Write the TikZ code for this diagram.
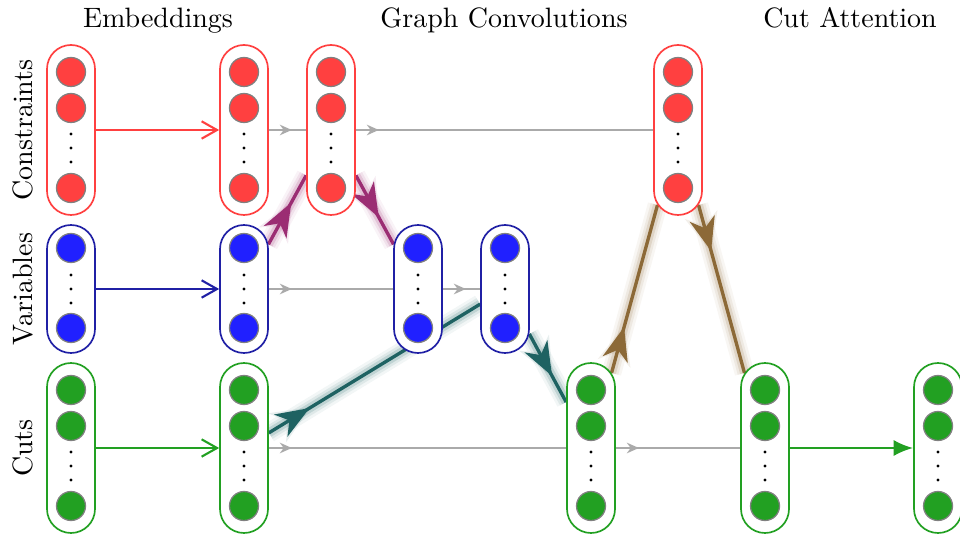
\documentclass[tikz,border=0pt]{standalone}
\usetikzlibrary{shapes.misc,arrows.meta,decorations.markings,backgrounds}

\definecolor{cred}{RGB}{255,64,64}
\definecolor{vblue}{RGB}{32,32,255}
\definecolor{vline}{RGB}{32,32,165}
\definecolor{cgreen}{RGB}{34,160,34}
\definecolor{gline}{RGB}{170,170,170}
\definecolor{ballrim}{RGB}{128,128,128}
\definecolor{mpurple}{RGB}{155,45,115}
\definecolor{mteal}{RGB}{30,98,98}
\definecolor{mbrown}{RGB}{140,105,55}

% one drawing unit in points
\newcommand{\pxu}{0.357pt}

% three balls and a vertical ellipsis for a tall column
\newcommand{\tallballs}[3]{%
  \foreach \dy in {-58,-22,58}{\draw[ball, fill=#3] ({#1},{#2+(\dy)}) circle[radius=14.5*\pxu];}
  \foreach \dy in {4,18,32}{\fill ({#1},{#2+(\dy)}) circle[radius=1.7*\pxu];}
}
% two balls and a vertical ellipsis for a short column
\newcommand{\lowballs}[3]{%
  \foreach \dy in {-41,39}{\draw[ball, fill=#3] ({#1},{#2+(\dy)}) circle[radius=14.5*\pxu];}
  \foreach \dy in {-14,0,14}{\fill ({#1},{#2+(\dy)}) circle[radius=1.7*\pxu];}
}

\begin{document}
\begin{tikzpicture}[x=0.357pt, y=-0.357pt,
  pillbox/.style={rounded rectangle, rotate=90, minimum height=48*\pxu,
    inner sep=0pt, fill=white, line width=0.6pt},
  tallbox/.style={pillbox, minimum width=170*\pxu},
  lowbox/.style={pillbox, minimum width=128*\pxu},
  ball/.style={draw=ballrim, line width=0.45pt},
  heading/.style={anchor=base, font=\normalsize},
  rowlabel/.style={anchor=base, rotate=90, font=\normalsize},
  embarrow/.style={line width=0.75pt, -{Straight Barb[length=5.5pt,width=6.2pt]}},
  passarrow/.style={draw=gline, line width=0.55pt,
    postaction={decorate, decoration={markings,
      mark=at position 8.2pt with {\arrow{Stealth[length=4.3pt,width=3.8pt,inset=1.4pt]}}}}},
  glow/.style={draw=#1, line width=1.2pt,
    preaction={draw=#1, line width=7pt, draw opacity=0.06},
    preaction={draw=#1, line width=5pt, draw opacity=0.09},
    preaction={draw=#1, line width=3.2pt, draw opacity=0.16},
    postaction={decorate, decoration={markings,
      mark=at position 17.6pt with {\arrow[#1, opacity=0.10]{Stealth[length=14pt,width=12pt,inset=4pt]}},
      mark=at position 17pt with {\arrow[#1]{Stealth[length=12pt,width=9.2pt,inset=3.6pt]}}}}},
]
\useasboundingbox (0,0) rectangle (960,536);

% column headings
\node[heading] (hEmb) at (158,28) {Embeddings};
\node[heading] (hConv) at (504,28) {Graph Convolutions};
\node[heading] (hAtt) at (850,28) {Cut Attention};

% row labels
\node[rowlabel] (rCons) at (32,130) {Constraints};
\node[rowlabel] (rVars) at (32,289) {Variables};
\node[rowlabel] (rCuts) at (32,448) {Cuts};

% constraint columns
\node[tallbox, draw=cred] (c0) at (71,130) {};
\node[tallbox, draw=cred] (c2) at (244,130) {};
\node[tallbox, draw=cred] (c3) at (331,130) {};
\node[tallbox, draw=cred] (c7) at (678,130) {};
\foreach \x in {71,244,331,678}{\tallballs{\x}{130}{cred}}

% variable columns
\node[lowbox, draw=vline] (v0) at (71,289) {};
\node[lowbox, draw=vline] (v2) at (244,289) {};
\node[lowbox, draw=vline] (v4) at (418,289) {};
\node[lowbox, draw=vline] (v5) at (505,289) {};
\foreach \x in {71,244,418,505}{\lowballs{\x}{289}{vblue}}

% cut columns
\node[tallbox, draw=cgreen] (u0) at (71,448) {};
\node[tallbox, draw=cgreen] (u2) at (244,448) {};
\node[tallbox, draw=cgreen] (u6) at (591,448) {};
\node[tallbox, draw=cgreen] (u8) at (765,448) {};
\node[tallbox, draw=cgreen] (u10) at (938,448) {};
\foreach \x in {71,244,591,765,938}{\tallballs{\x}{448}{cgreen}}

\begin{pgfonlayer}{background}
  % embedding layers
  \draw[embarrow, cred] (c0) -- (c2);
  \draw[embarrow, vline] (v0) -- (v2);
  \draw[embarrow, cgreen] (u0) -- (u2);

  % residual pass-through
  \draw[passarrow] (c2) -- (c3);
  \draw[passarrow] (c3) -- (c7);
  \draw[passarrow] (v2) -- (v4);
  \draw[passarrow] (v4) -- (v5);
  \draw[passarrow] (u2) -- (u6);
  \draw[passarrow] (u6) -- (u8);

  % message passing
  \draw[glow=mpurple] (v2) -- (c3);
  \draw[glow=mpurple] (c3) -- (v4);
  \draw[glow=mteal] (u2) -- (v5);
  \draw[glow=mteal] (v5) -- (u6);
  \draw[glow=mbrown] (u6) -- (c7);
  \draw[glow=mbrown] (c7) -- (u8);

  % attention output
  \draw[cgreen, line width=0.9pt, -{Latex[length=7pt,width=5.8pt]}] (u8) -- (u10);
\end{pgfonlayer}
\end{tikzpicture}
\end{document}
